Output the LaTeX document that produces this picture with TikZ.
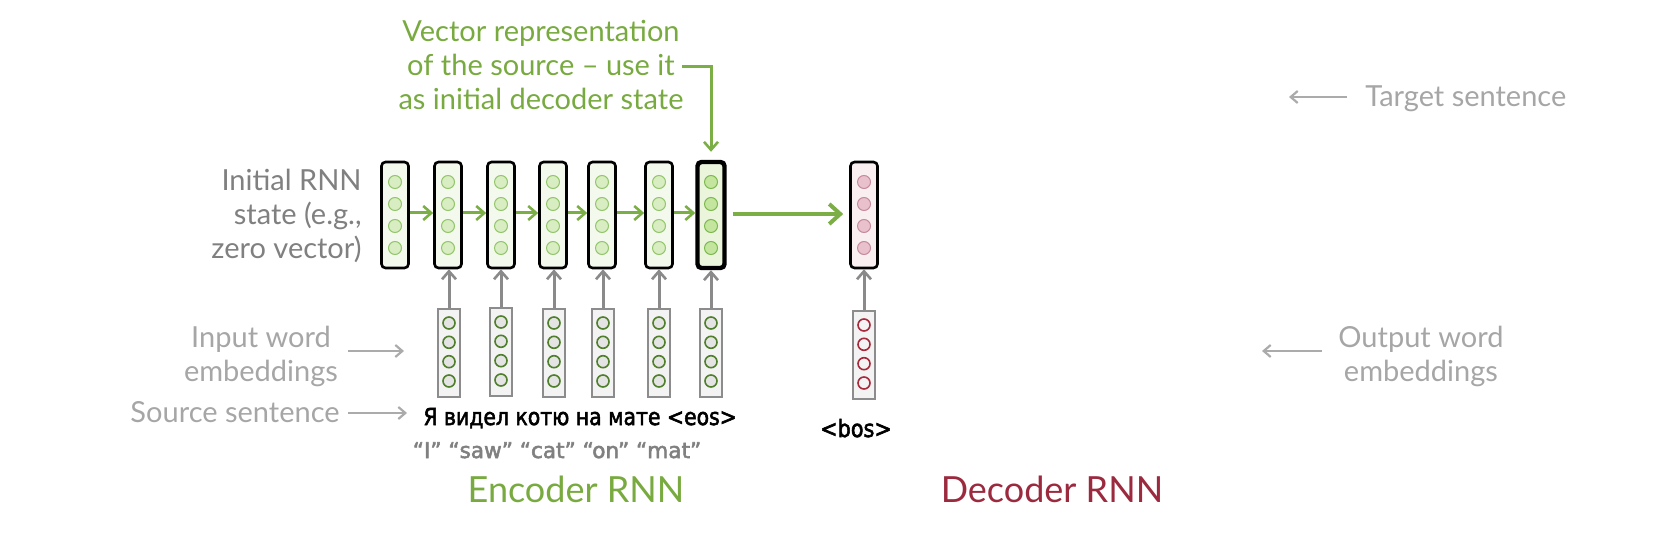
\documentclass[tikz,border=0pt]{standalone}
\usepackage{fontspec}
\setmainfont{Lato}
\newfontfamily\comic[FakeBold=2.5]{DejaVu Sans}
\usetikzlibrary{arrows.meta}
\definecolor{ggreen}{HTML}{7BAE44}
\definecolor{gtext}{HTML}{78AA40}
\definecolor{stfill}{HTML}{F4F9EE}
\definecolor{stcfill}{HTML}{D8EDC2}
\definecolor{stcdraw}{HTML}{93C56A}
\definecolor{lastfill}{HTML}{EAF5DC}
\definecolor{lastcfill}{HTML}{C4E59E}
\definecolor{lastcdraw}{HTML}{7DB84F}
\definecolor{decfill}{HTML}{F9EFF1}
\definecolor{deccfill}{HTML}{E8C1CC}
\definecolor{deccdraw}{HTML}{C58A9C}
\definecolor{embfill}{HTML}{F3F3F3}
\definecolor{embdraw}{HTML}{8C8C8C}
\definecolor{embcfill}{HTML}{E4E4E4}
\definecolor{embcgreen}{HTML}{4F7F2A}
\definecolor{embcred}{HTML}{A8283C}
\definecolor{uparrow}{HTML}{8A8A8A}
\definecolor{labarrowc}{HTML}{ABABAB}
\definecolor{labtext}{HTML}{A6A6A6}
\definecolor{darklab}{HTML}{808080}
\definecolor{decred}{HTML}{9B2A3F}
\tikzset{
  statebox/.style={draw=black, line width=1.3pt, rounded corners=2pt, fill=stfill,
    minimum width=13.5pt, minimum height=53pt, inner sep=0pt},
  lastbox/.style={statebox, line width=2.2pt, fill=lastfill},
  decbox/.style={statebox, fill=decfill},
  embbox/.style={draw=embdraw, line width=1.2pt, fill=embfill,
    minimum width=11pt, minimum height=44pt, inner sep=0pt},
  cell/.style={circle, inner sep=0pt, minimum size=6.5pt, line width=0.5pt},
  stcell/.style={cell, fill=stcfill, draw=stcdraw},
  lastcell/.style={cell, fill=lastcfill, draw=lastcdraw},
  deccell/.style={cell, fill=deccfill, draw=deccdraw},
  embcell/.style={cell, minimum size=6pt, line width=0.8pt, fill=embcfill, draw=embcgreen},
  embdcell/.style={cell, minimum size=6pt, line width=0.8pt, fill=embfill, draw=embcred},
  garrow/.style={draw=ggreen, line width=1.5pt, -{Straight Barb[length=4pt,width=7pt,line width=1.3pt]}},
  bigarrow/.style={draw=ggreen, line width=2.3pt, -{Straight Barb[length=5.5pt,width=10pt,line width=2pt]}},
  grayup/.style={draw=uparrow, line width=1.5pt, -{Straight Barb[length=4pt,width=7pt,line width=1.3pt]}},
  labarrow/.style={draw=labarrowc, line width=1.2pt, -{Straight Barb[length=3.5pt,width=6pt,line width=1.1pt]}},
  lab/.style={text=labtext, font=\fontsize{14.5}{17}\selectfont, inner sep=0pt},
  darklabel/.style={lab, text=darklab},
  greenlabel/.style={lab, text=gtext},
}
\begin{document}
\begin{tikzpicture}[x=0.5pt,y=-0.5pt]
\useasboundingbox (0,0) rectangle (1668,550);
% encoder states
\foreach \i/\x in {1/395,2/448,3/501,4/553,5/602,6/659}{
  \node[statebox] (s\i) at (\x,215) {};
  \foreach \dy in {-33,-11,11,33} \node[stcell] at (\x,{215+(\dy)}) {};
}
\node[lastbox] (s7) at (711,215) {};
\foreach \dy in {-33,-11,11,33} \node[lastcell] at (711,{215+(\dy)}) {};
% decoder state
\node[decbox] (d1) at (864,215) {};
\foreach \dy in {-33,-11,11,33} \node[deccell] at (864,{215+(\dy)}) {};
% embeddings
\foreach \i/\x/\yy in {2/449/353,3/501/352,4/554/353,5/603/353,6/659/353,7/711/353}{
  \node[embbox] (e\i) at (\x,\yy) {};
  \foreach \dy in {-29,-9.7,9.7,29} \node[embcell] at (\x,{\yy-1+(\dy)}) {};
  \draw[grayup] (e\i.north) -- (e\i.north |- s\i.south);
}
\node[embbox] (de1) at (864,355) {};
\foreach \dy in {-29,-9.7,9.7,29} \node[embdcell] at (864,{354+(\dy)}) {};
\draw[grayup] (de1.north) -- (d1.south);
% recurrent arrows
\foreach \i/\j in {1/2,2/3,3/4,4/5,5/6,6/7}{
  \draw[garrow] ([yshift=1pt]s\i.east) -- ([yshift=1pt]s\j.west);
}
\draw[bigarrow, shorten <=3pt, shorten >=3pt] ([yshift=0.5pt]s7.east) -- ([yshift=0.5pt]d1.west);
% top label
\node[greenlabel, align=center] (vec) at (541,65) {Vector representation\\of the source -- use it\\as initial decoder state};
\coordinate (vecstart) at (682,67);
\draw[garrow, shorten >=4pt] (vecstart) -- (vecstart -| s7.north) -- (s7.north);
% left labels
\node[darklabel, align=right, anchor=east] (init) at (362,216) {Initial RNN\\state (e.g.,\\zero vector)};
\node[lab, align=center] (inemb) at (261,356) {Input word\\embeddings};
\coordinate (inA) at (348,351);
\coordinate (inB) at (404,351);
\draw[labarrow] (inA) -- (inB);
\node[lab, anchor=base east] (src) at (340,422) {Source sentence};
\coordinate (srcA) at (348,413);
\coordinate (srcB) at (407,413);
\draw[labarrow] (srcA) -- (srcB);
% right labels
\node[lab, anchor=base west] (tgt) at (1365,107) {Target sentence};
\coordinate (tgtA) at (1347,97);
\coordinate (tgtB) at (1289,97);
\draw[labarrow] (tgtA) -- (tgtB);
\node[lab, align=center, anchor=west] (outemb) at (1338,356) {Output word\\embeddings};
\coordinate (outA) at (1322,351);
\coordinate (outB) at (1262,351);
\draw[labarrow] (outA) -- (outB);
% sentences
\node[anchor=base west, inner sep=0pt, font=\comic\fontsize{10.2}{12}\selectfont] (ru) at (423,425) {\scalebox{1}[1.15]{Я видел котю на мате <eos>}};
\node[anchor=base, inner sep=0pt, text=darklab, font=\comic\fontsize{10.8}{12}\selectfont] (tr) at (557,458) {“I” “saw” “cat” “on” “mat”};
\node[anchor=base, inner sep=0pt, font=\comic\fontsize{10.4}{12}\selectfont] (bos) at (856,437) {\scalebox{1}[1.15]{<bos>}};
% titles
\node[anchor=base, inner sep=0pt, text=gtext, font=\fontsize{18}{20}\selectfont] (enc) at (576,502) {Encoder RNN};
\node[anchor=base, inner sep=0pt, text=decred, font=\fontsize{18}{20}\selectfont] (dec) at (1052,502) {Decoder RNN};
\end{tikzpicture}
\end{document}
